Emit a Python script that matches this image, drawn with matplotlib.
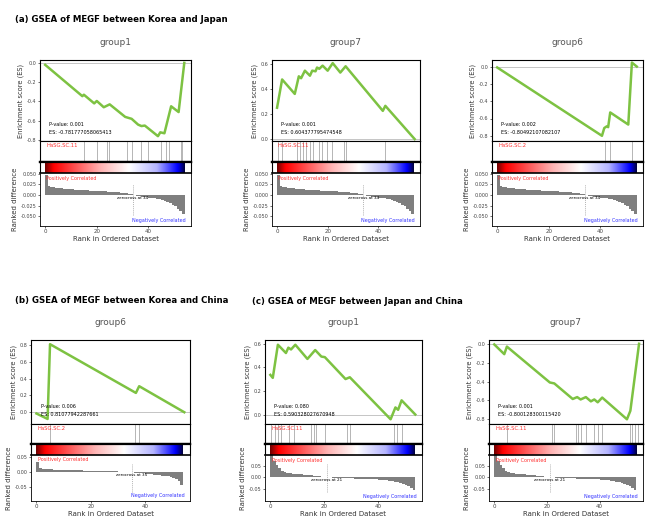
"""GSEA panels for MEGF"""
import numpy as np
import matplotlib
matplotlib.use('Agg')
import matplotlib.pyplot as plt
from matplotlib.colors import LinearSegmentedColormap

W, H = 645, 521

# ---- (a) Korea vs Japan ----
A1_X = [0, 14.4, 15, 19, 20, 22.7, 25, 31, 33.5, 36, 37.3, 38.6, 43.7, 44.6, 46.2, 48.8, 51.7, 53.9]
A1_Y = [-0.02, -0.345, -0.33, -0.42, -0.395, -0.46, -0.43, -0.56, -0.58, -0.64, -0.655, -0.65, -0.76, -0.72, -0.73, -0.45, -0.51, 0.0]
A1_HITS = [15, 20, 23.9, 24.9, 31.6, 33.5, 37.3, 39.9, 45, 46.8, 48, 52.6, 53.2]

A7_X = [0, 2, 7, 8.6, 9.5, 11, 13, 13.9, 15.2, 15.8, 16.7, 18, 20, 22, 25, 27.1, 41.8, 42.8, 54.4]
A7_Y = [0.25, 0.475, 0.36, 0.5, 0.485, 0.545, 0.505, 0.545, 0.54, 0.57, 0.56, 0.585, 0.545, 0.605, 0.53, 0.58, 0.225, 0.265, 0.0]
A7_HITS = [0.4, 2, 7.8, 9, 10.4, 11.3, 13, 14.3, 16.5, 17.7, 19.7, 21.6, 26.4, 27.2, 42.8]

A6_X = [0, 40.6, 41.5, 42.5, 43, 43.8, 50.8, 52.2, 54.1]
A6_Y = [-0.01, -0.80, -0.71, -0.69, -0.70, -0.53, -0.67, 0.046, 0.0]
A6_HITS = [41.9, 43.8, 52.2]

RANK_A = [0.048, 0.022, 0.019, 0.018, 0.017, 0.016, 0.0155, 0.015, 0.0145, 0.014,
          0.0135, 0.013, 0.0125, 0.012, 0.0118, 0.0115, 0.011, 0.0107, 0.0104, 0.010,
          0.0097, 0.0093, 0.009, 0.0086, 0.0082, 0.0078, 0.0073, 0.0068, 0.0062, 0.0055,
          0.0047, 0.0038, 0.0028, 0.0015, 0.0002, -0.0012, -0.0025, -0.0035, -0.0045, -0.0053,
          -0.006, -0.0068, -0.0076, -0.0085, -0.0095, -0.011, -0.013, -0.016, -0.019, -0.023,
          -0.027, -0.032, -0.038, -0.045, -0.052]

# ---- (b) Korea vs China ----
B6_X = [0, 4.1, 5, 36.6, 37.8, 54.4]
B6_Y = [-0.015, -0.08, 0.81, 0.23, 0.31, 0.0]
B6_HITS = [5, 36.2, 37.8]

RANK_B = [0.033, 0.014, 0.012, 0.011, 0.010, 0.0095, 0.009, 0.0085, 0.008, 0.0077,
          0.0074, 0.0071, 0.0068, 0.0065, 0.0062, 0.006, 0.0058, 0.0056, 0.0054, 0.0052,
          0.005, 0.0048, 0.0046, 0.0044, 0.0042, 0.004, 0.0037, 0.0034, 0.003, 0.0026,
          0.0022, 0.0017, 0.0012, 0.0007, 0.0002, -0.0004, -0.0012, -0.002, -0.003, -0.004,
          -0.005, -0.006, -0.007, -0.008, -0.009, -0.010, -0.011, -0.012, -0.014, -0.016,
          -0.019, -0.023, -0.03, -0.042, -0.062]

# ---- (c) Japan vs China ----
C1_X = [0, 0.9, 2.8, 5.8, 6.7, 7.7, 9.3, 13.8, 16.7, 19, 20.3, 28, 29.6, 44.8, 46.6, 47.6, 48.9, 54]
C1_Y = [0.335, 0.31, 0.59, 0.52, 0.565, 0.55, 0.59, 0.47, 0.545, 0.49, 0.485, 0.3, 0.315, -0.04, 0.06, 0.04, 0.12, 0.0]
C1_HITS = [0.4, 1.9, 3, 3.9, 7.1, 8.8, 15.2, 16.1, 17, 20.3, 28.6, 29.7, 45.9, 47.2, 48.9]

C7_X = [0, 3.8, 4.8, 21.1, 22.8, 29.8, 31.5, 32.8, 34.8, 36.7, 38, 39.3, 41, 50.4, 51.7, 55]
C7_Y = [-0.007, -0.11, -0.03, -0.41, -0.42, -0.585, -0.565, -0.59, -0.565, -0.61, -0.59, -0.62, -0.57, -0.8, -0.71, 0.0]
C7_HITS = [4.8, 22, 22.8, 30.9, 31.8, 32.8, 34.8, 38, 39.3, 41, 51.4, 52.3, 53.6, 54.6]

RANK_C = [0.097, 0.071, 0.052, 0.040, 0.029, 0.024, 0.020, 0.018, 0.016, 0.0145,
          0.013, 0.012, 0.011, 0.010, 0.009, 0.008, 0.007, 0.0058, 0.0045, 0.003,
          0.0015, 0.0, -0.001, -0.0018, -0.0025, -0.003, -0.0035, -0.004, -0.0045, -0.005,
          -0.0055, -0.006, -0.0065, -0.007, -0.0075, -0.008, -0.0085, -0.009, -0.0095, -0.010,
          -0.0105, -0.011, -0.012, -0.013, -0.015, -0.017, -0.019, -0.022, -0.026, -0.030,
          -0.034, -0.040, -0.048, -0.058, -0.084]

GSEA_CMAP = LinearSegmentedColormap.from_list(
    'gsea', [(0, '#6e0000'), (0.06, '#ff0000'), (0.4, '#ffb4b4'), (0.6, '#ffffff'),
             (0.8, '#b4b4ff'), (0.95, '#0000ff'), (1, '#00003c')])


def box(l, t, w, h):
    return [l / W, 1 - (t + h) / H, w / W, h / H]


def draw_panel(fig, left, width, rows, title, es_x, es_y, es_lim, es_ticks, hits,
               hit_label, pval, es_txt, rank, rank_lim, rank_ticks, zero):
    es_top, es_bot, hit_bot, cb_bot, rk_bot = rows
    xlim = (-2, 56.5)
    # enrichment score
    ax = fig.add_axes(box(left, es_top, width, es_bot - es_top))
    ax.axhline(0, color='#bbbbbb', lw=0.6)
    ax.plot(es_x, es_y, color='#7dc242', lw=1.8)
    ax.set_xlim(*xlim)
    ax.set_ylim(*es_lim)
    ax.set_yticks(es_ticks)
    ax.set_yticklabels(['%.1f' % t for t in es_ticks], fontsize=3.5, color='#444444')
    ax.set_xticks([])
    ax.tick_params(axis='y', length=1.5, width=0.4, pad=1)
    ax.set_ylabel('Enrichment score (ES)', fontsize=4.8, color='#333333', labelpad=2)
    ax.set_title(title, fontsize=6.5, color='#555555', pad=11)
    ax.text(0.06, 0.19, 'P-value: ' + pval, transform=ax.transAxes, fontsize=3.5)
    ax.text(0.06, 0.09, 'ES: ' + es_txt, transform=ax.transAxes, fontsize=3.5)
    for s in ax.spines.values():
        s.set_linewidth(0.8)

    # hits
    ah = fig.add_axes(box(left, es_bot, width, hit_bot - es_bot))
    ah.vlines(hits, 0, 1, color='#999999', lw=0.5)
    ah.set_xlim(*xlim)
    ah.set_ylim(0, 1)
    ah.set_xticks([])
    ah.set_yticks([])
    ah.text(0.04, 0.72, hit_label, transform=ah.transAxes, fontsize=3.8, color='#ff3030')
    for s in ah.spines.values():
        s.set_linewidth(0.8)
    ah.spines['bottom'].set_linewidth(1.6)

    # color bar
    ac = fig.add_axes(box(left, hit_bot, width, cb_bot - hit_bot))
    grad = np.linspace(0, 1, 256)[None, :]
    ac.imshow(grad, aspect='auto', cmap=GSEA_CMAP, extent=(0, len(rank) - 1, 0, 1))
    ac.set_xlim(*xlim)
    ac.set_ylim(0, 1)
    ac.set_xticks([])
    ac.set_yticks([])
    for s in ac.spines.values():
        s.set_linewidth(0.8)
    ac.spines['top'].set_linewidth(1.6)
    ac.spines['bottom'].set_linewidth(1.2)

    # ranked list
    ar = fig.add_axes(box(left, cb_bot, width, rk_bot - cb_bot))
    xr = np.arange(len(rank))
    ar.fill_between(xr, 0, rank, color='#7f7f7f', step='post', lw=0)
    ar.axvline(zero, ymin=0.2, ymax=0.8, color='#999999', lw=0.5, ls=(0, (1.5, 1.5)))
    ar.text(zero, -0.012 * (rank_lim[1] - rank_lim[0]), 'zerocross at %d' % zero,
            fontsize=3, ha='center', va='top')
    ar.text(0.5, rank_lim[1] * 0.88, 'Positively Correlated', fontsize=3.5, color='#ff3030',
            va='top')
    ar.text(len(rank) - 0.5, rank_lim[0] * 0.9, 'Negatively Correlated', fontsize=3.5,
            color='#3333ff', ha='right', va='bottom')
    ar.set_xlim(*xlim)
    ar.set_ylim(*rank_lim)
    ar.set_yticks(rank_ticks)
    fmt = '%.3f' if len(rank_ticks) == 5 else '%.2f'
    ar.set_yticklabels([fmt % t for t in rank_ticks], fontsize=3.5, color='#444444')
    ar.set_xticks([0, 20, 40])
    ar.set_xticklabels(['0', '20', '40'], fontsize=4, color='#444444')
    ar.tick_params(length=1.5, width=0.4, pad=1)
    ar.set_ylabel('Ranked difference', fontsize=5, color='#333333', labelpad=2)
    ar.set_xlabel('Rank in Ordered Dataset', fontsize=5, color='#333333', labelpad=1)
    for s in ar.spines.values():
        s.set_linewidth(0.6)


def main():
    fig = plt.figure(figsize=(W / 100, H / 100), dpi=100)
    top_rows = (60, 141, 162, 173, 226)
    bot_rows = (340, 424, 444, 455, 501)
    ra_lim = (-0.073, 0.052)
    ra_ticks = [0.05, 0.025, 0.0, -0.025, -0.05]

    fig.text(15 / W, 1 - 20 / H, '(a) GSEA of MEGF between Korea and Japan',
             fontsize=6.2, fontweight='bold', va='center')
    fig.text(15 / W, 1 - 301 / H, '(b) GSEA of MEGF between Korea and China',
             fontsize=6.2, fontweight='bold', va='center')
    fig.text(252 / W, 1 - 301 / H, '(c) GSEA of MEGF between Japan and China',
             fontsize=6.2, fontweight='bold', va='center')

    draw_panel(fig, 40, 151, top_rows, 'group1', A1_X, A1_Y, (-0.81, 0.03),
               [0.0, -0.2, -0.4, -0.6, -0.8], A1_HITS, 'HaSG.SC.11', '0.001',
               '-0.781777058065413', RANK_A, ra_lim, ra_ticks, 34)
    draw_panel(fig, 272, 148, top_rows, 'group7', A7_X, A7_Y, (-0.015, 0.63),
               [0.6, 0.4, 0.2, 0.0], A7_HITS, 'HaSG.SC.11', '0.001',
               '0.604377795474548', RANK_A, ra_lim, ra_ticks, 34)
    draw_panel(fig, 492, 151, top_rows, 'group6', A6_X, A6_Y, (-0.86, 0.076),
               [0.0, -0.2, -0.4, -0.6, -0.8], A6_HITS, 'HaSG.SC.2', '0.002',
               '-0.80492107082107', RANK_A, ra_lim, ra_ticks, 34)

    draw_panel(fig, 31, 159, bot_rows, 'group6', B6_X, B6_Y, (-0.14, 0.86),
               [0.8, 0.6, 0.4, 0.2, 0.0], B6_HITS, 'HaSG.SC.2', '0.006',
               '0.81077942287661', RANK_B, (-0.095, 0.057), [0.05, 0.0, -0.05], 35)
    draw_panel(fig, 265, 157, bot_rows, 'group1', C1_X, C1_Y, (-0.08, 0.63),
               [0.6, 0.4, 0.2, 0.0], C1_HITS, 'HaSG.SC.11', '0.080',
               '0.590328027670948', RANK_C, (-0.104, 0.097), [0.05, 0.0, -0.05], 21)
    draw_panel(fig, 489, 154, bot_rows, 'group7', C7_X, C7_Y, (-0.85, 0.04),
               [0.0, -0.2, -0.4, -0.6, -0.8], C7_HITS, 'HaSG.SC.11', '0.001',
               '-0.800128300115420', RANK_C, (-0.104, 0.097), [0.05, 0.0, -0.05], 21)

    fig.savefig('out.png', dpi=100)


main()
